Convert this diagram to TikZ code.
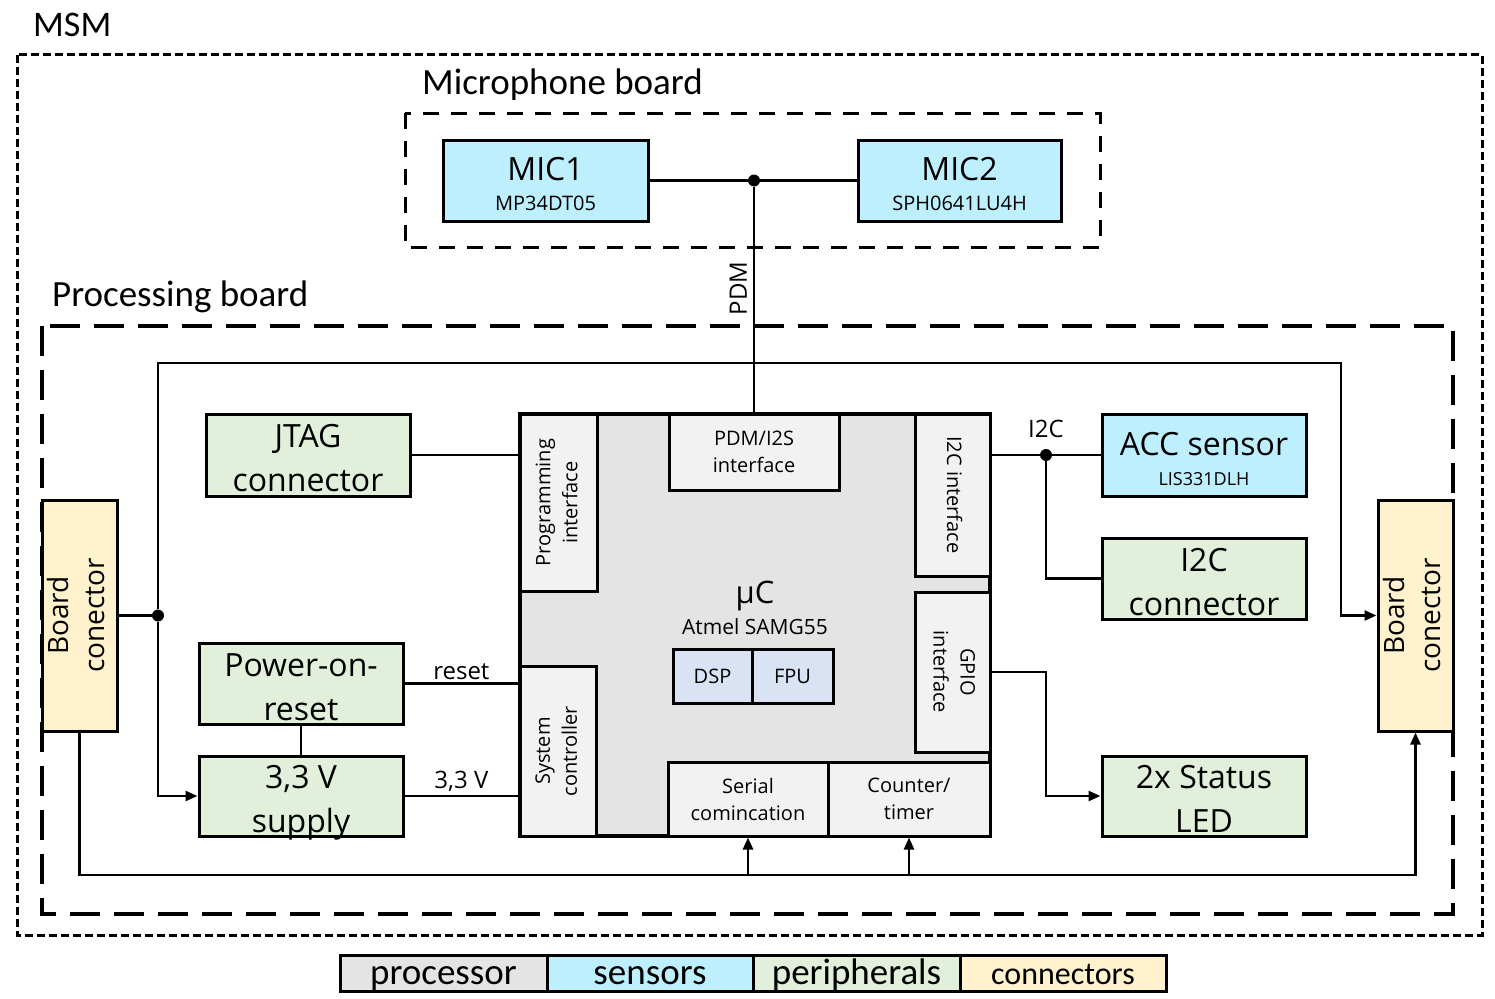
\documentclass[tikz,border=0pt]{standalone}
\usepackage{fontspec}
\setmainfont{Open Sans}
\newfontfamily\calfont{Carlito}
\usetikzlibrary{arrows.meta}
\definecolor{sensorc}{RGB}{189,239,254}
\definecolor{periphc}{RGB}{226,239,218}
\definecolor{connc}{RGB}{255,242,204}
\definecolor{procc}{RGB}{228,228,228}
\definecolor{ifacec}{RGB}{242,242,242}
\definecolor{dspc}{RGB}{218,227,243}
\newcommand{\vtxt}[2]{\rotatebox{#1}{\begin{tabular}{@{}c@{}}#2\end{tabular}}}
\newcommand{\subtxt}{\fontsize{20}{24}\selectfont}
\tikzset{
sz/.style 2 args={minimum width=#1pt, minimum height=#2pt},
blk/.style={draw, line width=3pt, inner sep=0pt, align=center},
sensor/.style={blk, fill=sensorc, text height=60pt, text depth=0pt, font=\fontsize{32}{44}\selectfont},
periph/.style={blk, fill=periphc, text height=73pt, text depth=0pt, font=\fontsize{32}{44}\selectfont},
conn/.style={blk, fill=connc, font=\fontsize{28}{36}\selectfont},
iface/.style={blk, fill=ifacec, font=\fontsize{20}{27}\selectfont},
legend/.style={blk, text height=24pt, text depth=2pt, font=\calfont\fontsize{37}{40}\selectfont},
head/.style={anchor=base west, inner sep=0pt, font=\calfont\fontsize{37}{40}\selectfont},
lbl/.style={inner sep=0pt, font=\fontsize{24}{28}\selectfont},
wire/.style={line width=2.5pt},
arr/.style={wire, -{Triangle[length=12pt,width=10pt]}},
dot/.style={circle, fill, inner sep=0pt, minimum size=12pt},
msmline/.style={line width=3pt, dash pattern=on 8pt off 4pt},
micline/.style={line width=3pt, dash pattern=on 16pt off 12pt},
procline/.style={line width=3.5pt, dash pattern=on 30pt off 14pt}
}
\begin{document}
\begin{tikzpicture}[x=1pt,y=-1pt]
\useasboundingbox (0,0) rectangle (1495,998);
\draw[msmline] (17,55) rectangle (1482,935);
\draw[micline] (405,113) rectangle (1100,247);
\draw[procline] (42,326) rectangle (1453,914);
\node[head, font=\calfont\fontsize{36}{40}\selectfont] (msm) at (33,37) {MSM};
\node[head] (micb) at (422,94) {Microphone board};
\node[head] (procb) at (52,306) {Processing board};
\node[sensor, sz={205}{81}] (mic1) at (545.5,180.5) {MIC1\\[-14pt]{\subtxt MP34DT05}};
\node[sensor, sz={203}{81}] (mic2) at (959.5,180.5) {MIC2\\[-14pt]{\subtxt SPH0641LU4H}};
\node[blk, fill=procc, line width=3.5pt, sz={470}{422}] (uc) at (755,625) {};
\node[iface, sz={77}{177}] (prog) at (558.5,502.5) {\vtxt{90}{Programming\\interface}};
\node[iface, sz={170}{76}] (pdm) at (754,452) {PDM/I2S\\interface};
\node[iface, sz={75}{162}] (i2ci) at (952.5,495) {\vtxt{-90}{I2C interface}};
\node[iface, sz={75}{160}] (gpio) at (952.5,672) {\vtxt{-90}{GPIO\\interface}};
\node[iface, sz={76}{170}] (sysc) at (558,751) {\vtxt{90}{System\\controller}};
\node[iface, sz={160}{74}] (ser) at (748,799) {Serial\\comincation};
\node[iface, sz={162}{74}] (cnt) at (909,799) {Counter/\\timer};
\node[anchor=base, inner sep=0pt, font=\fontsize{31}{36}\selectfont] (uct) at (755,603) {µC};
\node[anchor=base, inner sep=0pt, font=\fontsize{21}{25}\selectfont] (ucsub) at (755,634) {Atmel SAMG55};
\node[iface, fill=dspc, sz={79}{54}] (dsp) at (712.5,676) {DSP};
\node[iface, fill=dspc, sz={81}{54}] (fpu) at (792.5,676) {FPU};
\node[periph, sz={204}{82}] (jtag) at (308,455) {JTAG\\connector};
\node[periph, sz={204}{81}] (por) at (301,683.5) {Power-on-\\reset};
\node[periph, sz={204}{80}] (sup) at (301,796) {3,3 V\\supply};
\node[sensor, sz={204}{82}] (acc) at (1204,455) {ACC sensor\\[-14pt]{\fontsize{18}{22}\selectfont LIS331DLH}};
\node[periph, sz={204}{81}] (i2cc) at (1204,578.5) {I2C\\connector};
\node[periph, sz={204}{80}] (led) at (1204,796) {2x Status\\LED};
\node[conn, sz={75}{231}] (bcl) at (79.5,615.5) {\vtxt{90}{Board\\conector}};
\node[conn, sz={75}{231}] (bcr) at (1415.5,615.5) {\vtxt{90}{Board\\conector}};
\node[dot] (jm) at (mic1.east -| pdm.north) {};
\node[dot] (jl) at (158,615.5) {};
\node[dot] (ji) at (1046,455) {};
\coordinate (rtop) at (1341,363);
\coordinate (bb) at (1415.5,875);
\draw[wire] (mic1.east) -- (jm) -- (mic2.west);
\draw[wire] (jm) -- node[pos=0.45, left=6pt, lbl] (pdmlbl) {\rotatebox{90}{PDM}} (pdm.north);
\draw[wire] (jtag.east) -- (jtag.east -| uc.west);
\draw[wire] (por.east) -- node[above=3pt, lbl] (rstlbl) {reset} (por.east -| uc.west);
\draw[wire] (sup.east) -- node[above=3pt, lbl] (vlbl) {3,3 V} (sup.east -| uc.west);
\draw[wire] (por.south) -- (sup.north);
\draw[wire] (bcl.east) -- (jl);
\draw[arr] (jl) |- (sup.west);
\draw[arr] (jl) |- (rtop) |- (bcr.west);
\draw[arr] (bcl.south) |- (bb) -- (bcr.south);
\draw[arr] (ser.south |- bb) -- (ser.south);
\draw[arr] (cnt.south |- bb) -- (cnt.south);
\draw[wire] (i2ci.east |- acc.west) -- (acc.west);
\draw[wire] (ji) |- (i2cc.west);
\node[lbl, above=17pt] (i2clbl) at (ji) {I2C};
\draw[arr] (gpio.east) -- (gpio.east -| ji) |- (led.west);
\node[legend, fill=procc, sz={207}{36}] (lgproc) at (443.5,973) {processor};
\node[legend, fill=sensorc, sz={206}{36}] (lgsens) at (650,973) {sensors};
\node[legend, fill=periphc, sz={207}{36}] (lgper) at (856.5,973) {peripherals};
\node[legend, fill=connc, sz={206}{36}, font=\calfont\fontsize{32}{36}\selectfont] (lgconn) at (1063,973) {connectors};
\end{tikzpicture}
\end{document}
